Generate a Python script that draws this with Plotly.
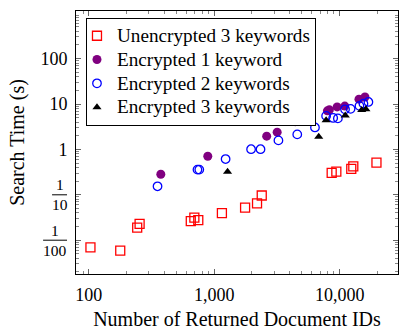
import math
import plotly.graph_objects as go

# Number of returned document IDs vs. search time (seconds)
unenc_x = [103, 178, 243, 254, 650, 694, 746, 1151, 1762, 2194, 2392, 8640, 9410, 12380, 12850, 19660]
unenc_y = [0.00695, 0.00589, 0.0189, 0.0230, 0.0264, 0.0315, 0.0277, 0.0393, 0.052, 0.0648, 0.0966,
           0.305, 0.325, 0.372, 0.424, 0.509]

enc1_x = [375, 888, 2620, 3175, 4426, 5853, 7987, 8285, 9550, 10990, 14260, 15920]
enc1_y = [0.284, 0.705, 1.96, 2.40, 4.09, 4.66, 7.08, 7.45, 8.65, 9.0, 12.8, 14.3]

enc2_x = [353, 735, 760, 1232, 1967, 2339, 3250, 4592, 6356, 7800, 8880, 9680, 11040, 12230, 14390, 15480, 16960]
enc2_y = [0.154, 0.359, 0.359, 0.613, 1.01, 1.01, 1.58, 2.14, 3.05, 5.47, 4.94, 4.82, 7.64, 7.83, 9.1, 10.2, 11.1]

enc3_x = [1277, 6812, 7800, 11090, 15000, 16200]
enc3_y = [0.32, 1.90, 4.41, 5.6, 7.38, 7.68]

series_names = ["Unencrypted 3 keywords", "Encrypted 1 keyword", "Encrypted 2 keywords", "Encrypted 3 keywords"]

x_tickvals = [100, 1000, 10000]
x_ticktext = ["100", "1,000", "10,000"]
y_tickvals = [0.01, 0.1, 1, 10, 100]
y_ticktext = ["", "", "1", "10", "100"]
frac_vals = [0.1, 0.01]
frac_den = ["10", "100"]

SERIF = "Liberation Serif"
X_RANGE = [math.log10(79), math.log10(29200)]
Y_RANGE = [math.log10(0.0018), math.log10(1120)]
PLOT_L, PLOT_W = 76, 323


def legend_label(text, px=19.2):
    return f"<span style='font-size:{px}px'>{text}</span>"


fig = go.Figure()
fig.add_trace(go.Scatter(
    x=unenc_x, y=unenc_y, mode="markers", name=legend_label(series_names[0]),
    marker=dict(symbol="square-open", size=9, color="#ff0000", line=dict(width=1.3, color="#ff0000")),
))
fig.add_trace(go.Scatter(
    x=enc1_x, y=enc1_y, mode="markers", name=legend_label(series_names[1]),
    marker=dict(symbol="circle", size=9, color="#800080", line=dict(width=0)),
))
fig.add_trace(go.Scatter(
    x=enc2_x, y=enc2_y, mode="markers", name=legend_label(series_names[2]),
    marker=dict(symbol="circle-open", size=8.5, color="#0000ff", line=dict(width=1.3, color="#0000ff")),
))
fig.add_trace(go.Scatter(
    x=enc3_x, y=enc3_y, mode="markers", name=legend_label(series_names[3]),
    marker=dict(symbol="triangle-up", size=8, color="#000000", line=dict(width=0)),
))


def minor_vals(lo, hi):
    vals = []
    for e in range(lo, hi):
        for m in range(2, 10):
            vals.append(m * 10 ** e)
    return vals


axis_common = dict(
    showline=True, linecolor="black", linewidth=1, mirror="ticks",
    ticks="inside", ticklen=5, tickwidth=1, tickcolor="#666666",
    showgrid=False, zeroline=False,
    tickfont=dict(family=SERIF, size=18, color="black"),
)

fig.update_xaxes(
    type="log", range=X_RANGE,
    tickmode="array", tickvals=x_tickvals, ticktext=x_ticktext,
    minor=dict(ticks="inside", ticklen=3, tickcolor="#888888", tickmode="array",
               tickvals=minor_vals(1, 5), showgrid=False),
    title=dict(text="Number of Returned Document IDs", font=dict(family=SERIF, size=20, color="black"),
               standoff=10),
    ticklabelstandoff=4,
    **axis_common,
)
fig.update_yaxes(
    type="log", range=Y_RANGE,
    tickmode="array", tickvals=y_tickvals, ticktext=y_ticktext,
    minor=dict(ticks="inside", ticklen=3, tickcolor="#888888", tickmode="array",
               tickvals=minor_vals(-3, 4), showgrid=False),
    title=dict(text="Search Time (s)", font=dict(family=SERIF, size=20, color="black"),
               standoff=10),
    ticklabelstandoff=4,
    **axis_common,
)

# Stacked-fraction labels for the sub-unit decades: numerator above the bar, denominator below
right_px = 67
frac_font = dict(family=SERIF, size=15.5, color="black")
for v, den in zip(frac_vals, frac_den):
    yp = (math.log10(v) - Y_RANGE[0]) / (Y_RANGE[1] - Y_RANGE[0])
    half = 7.5 if len(den) == 2 else 12
    x0 = (right_px - 2 * half - PLOT_L) / PLOT_W
    x1 = (right_px - PLOT_L) / PLOT_W
    xc = (x0 + x1) / 2
    fig.add_shape(type="line", xref="paper", yref="paper", x0=x0, x1=x1, y0=yp, y1=yp,
                  line=dict(color="black", width=1))
    fig.add_annotation(xref="paper", yref="paper", x=xc, y=yp, yshift=0.5, text="1",
                       showarrow=False, xanchor="center", yanchor="bottom",
                       borderpad=0, font=frac_font)
    fig.add_annotation(xref="paper", yref="paper", x=xc, y=yp, yshift=-0.5, text=den,
                       showarrow=False, xanchor="center", yanchor="top",
                       borderpad=0, font=frac_font)

fig.update_layout(
    width=400, height=330,
    margin=dict(l=PLOT_L, r=1, t=11, b=52),
    paper_bgcolor="white", plot_bgcolor="white",
    legend=dict(
        x=0.031, y=0.974, xanchor="left", yanchor="top",
        bgcolor="white", bordercolor="black", borderwidth=1,
        font=dict(family=SERIF, size=16, color="black"),
        tracegroupgap=0, itemwidth=30, indentation=-10,
    ),
)

fig.write_html("out.html")
